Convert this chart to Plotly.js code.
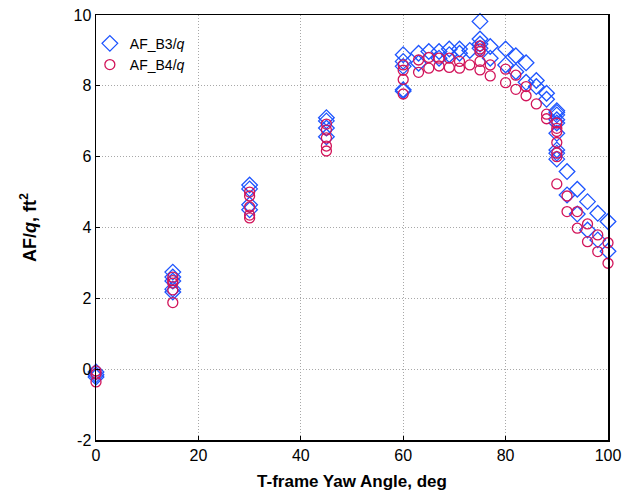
<!DOCTYPE html>
<html>
<head>
<meta charset="utf-8">
<script src="https://cdn.plot.ly/plotly-3.0.1.min.js"></script>
<style>html,body{margin:0;padding:0;background:#fff;}#plot{width:623px;height:493px;}</style>
</head>
<body>
<div id="plot"></div>
<script>
// AF_B3/q series
const b3Yaw = [0,0,0, 15,15,15,15,15, 30,30,30,30, 45,45,45,45,
  60,60,60,60,60, 63,63, 65, 67,67, 69,69, 71,71, 73,
  75,75,75,75, 77,77, 80,80, 82,82, 84,84, 86,86, 88,88,
  90,90,90,90,90,90,90,90,90, 92,92, 94,94, 96,96, 98,98, 100,100];
const b3AF = [-0.08,-0.16,-0.22, 2.74,2.6,2.49,2.26,2.18, 5.2,5.09,4.64,4.5, 7.1,7.01,6.81,6.56,
  8.88,8.69,8.55,7.89,7.85, 8.92,8.64, 8.97, 8.97,8.78, 9.04,8.88, 9.04,8.92, 9.0,
  9.82,9.32,9.18,9.06, 9.11,8.78, 9.04,8.59, 8.85,8.4, 8.65,8.1, 8.15,7.98, 7.79,7.62,
  7.3,7.25,7.18,7.04,6.95,6.66,6.19,6.1,5.93, 5.58,4.92, 5.08,4.38, 4.73,3.93, 4.4,3.65, 4.17,3.33];
// AF_B4/q series
const b4Yaw = [0,0,0, 15,15,15,15,15, 30,30,30,30,30, 45,45,45,45,45,
  60,60,60,60, 63,63, 65,65, 67,67, 69,69, 71,71, 73,
  75,75,75,75,75, 77,77, 80,80, 82,82, 84,84, 86, 88,88,
  90,90,90,90,90,90,90, 92,92, 94,94, 96,96, 98,98, 100,100];
const b4AF = [-0.05,-0.14,-0.36, 2.6,2.5,2.43,2.24,1.88, 5.0,4.89,4.58,4.35,4.27, 6.92,6.75,6.53,6.3,6.16,
  8.59,8.44,8.18,7.77, 8.73,8.38, 8.8,8.5, 8.78,8.56, 8.78,8.52, 8.69,8.5, 8.59,
  9.13,9.04,8.97,8.69,8.45, 8.59,8.28, 8.47,8.09, 8.3,7.9, 7.98,7.72, 7.49, 7.2,7.07,
  6.95,6.8,6.71,6.4,6.1,6.0,5.23, 4.89,4.45, 4.45,3.98, 4.1,3.6, 3.79,3.32, 3.57,2.99];

const xTicks = [0,20,40,60,80,100];
const yTicks = [-2,0,2,4,6,8,10];

const traces = [
  {x: b3Yaw, y: b3AF, type: 'scatter', mode: 'markers', name: 'AF_B3/<i>q</i>', cliponaxis: false,
   marker: {symbol: 'diamond-open', size: 12, color: 'rgb(30,85,255)', line: {width: 1.3, color: 'rgb(30,85,255)'}}},
  {x: b4Yaw, y: b4AF, type: 'scatter', mode: 'markers', name: 'AF_B4/<i>q</i>', cliponaxis: false,
   marker: {symbol: 'circle-open', size: 10, color: 'rgb(210,20,90)', line: {width: 1.3, color: 'rgb(210,20,90)'}}}
];

const axisCommon = {
  showline: true, linecolor: '#000', linewidth: 1.5, mirror: true,
  showgrid: true, gridcolor: '#a8a8a8', griddash: '1px,2px', gridwidth: 1,
  zeroline: false, ticks: 'inside', ticklen: 4, tickcolor: '#000',
  tickfont: {family: 'Liberation Sans, Arial, sans-serif', size: 16, color: '#000'}
};

const layout = {
  width: 623, height: 493,
  margin: {l: 96, r: 15, t: 15, b: 53},
  paper_bgcolor: '#fff', plot_bgcolor: '#fff',
  showlegend: true,
  legend: {x: -0.012, y: 0.97, xanchor: 'left', yanchor: 'top', bgcolor: 'rgba(255,255,255,0)',
    font: {family: 'Liberation Sans, Arial, sans-serif', size: 14, color: '#000'}, tracegroupgap: 0},
  xaxis: Object.assign({}, axisCommon, {range: [0, 100], tickvals: xTicks, ticktext: xTicks.map(String),
    title: {text: '<b>T-frame Yaw Angle, deg</b>', standoff: 12,
      font: {family: 'Liberation Sans, Arial, sans-serif', size: 17, color: '#000'}}}),
  yaxis: Object.assign({}, axisCommon, {range: [-2, 10], tickvals: yTicks, ticktext: yTicks.map(String),
    title: {text: '<b>AF/<i>q</i>, ft<sup>2</sup></b>', standoff: 32,
      font: {family: 'Liberation Sans, Arial, sans-serif', size: 18, color: '#000'}}})
};

Plotly.newPlot('plot', traces, layout, {staticPlot: true, displayModeBar: false});
</script>
</body>
</html>
